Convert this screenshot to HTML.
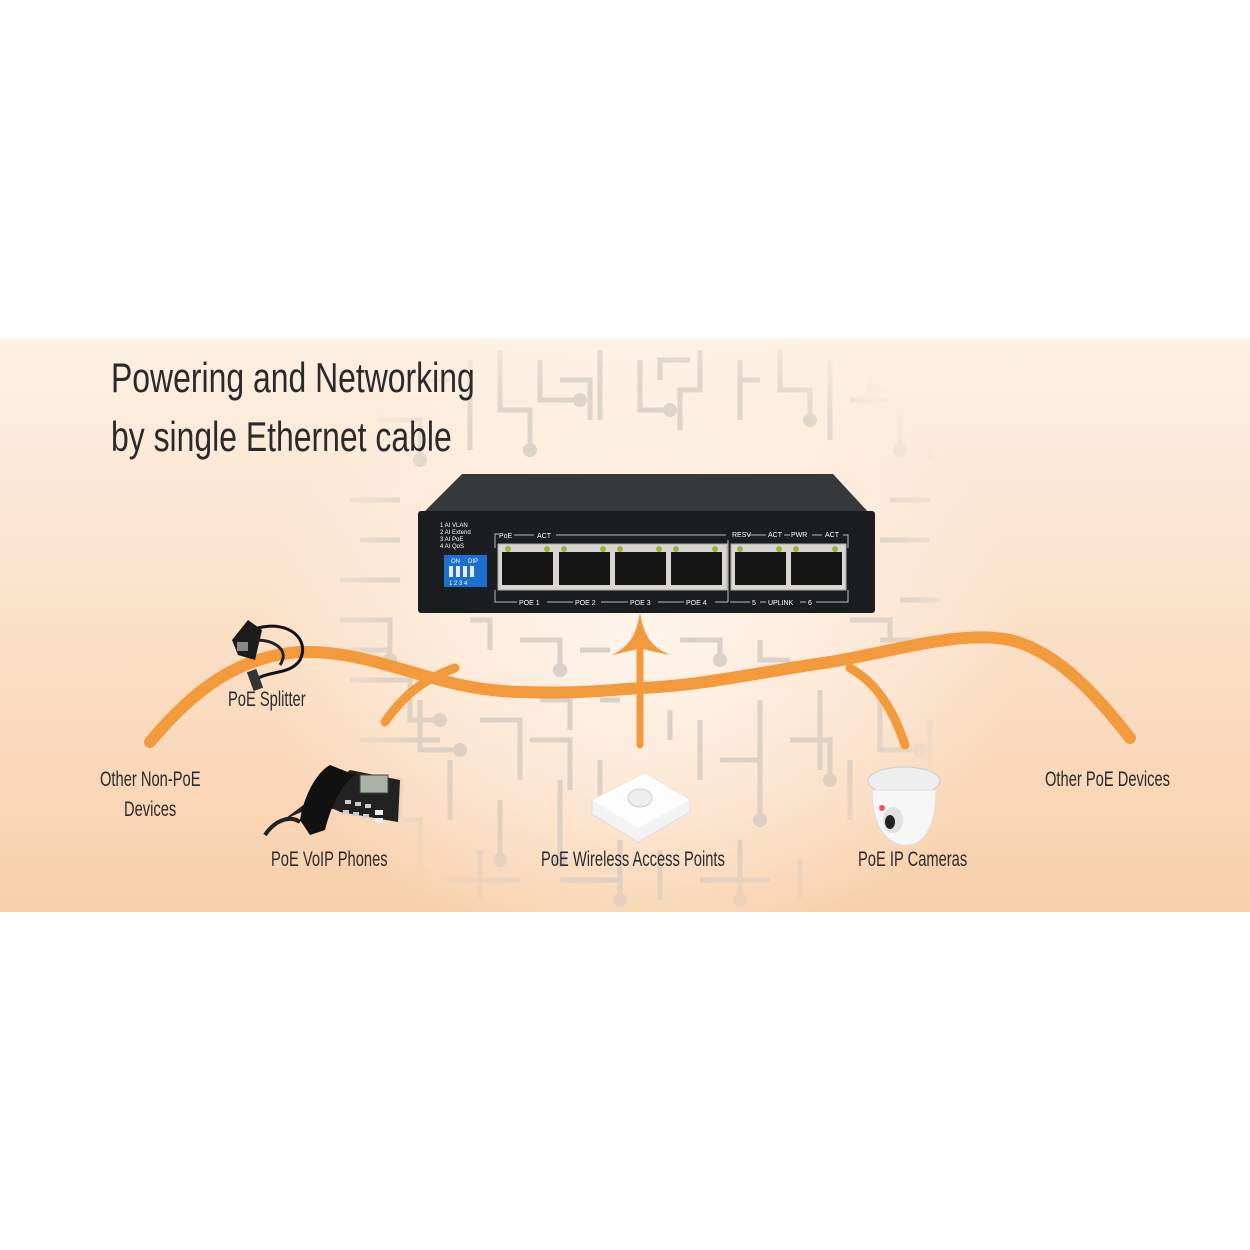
<!DOCTYPE html>
<html><head><style>
html,body{margin:0;padding:0;background:#fff;}
body{width:1250px;height:1250px;position:relative;overflow:hidden;font-family:"Liberation Sans",sans-serif;}
.band{position:absolute;left:0;top:338px;width:1250px;height:574px;
background:linear-gradient(180deg,#fdf0e4 0%,#fbe2cb 45%,#f8d0ab 100%);}
.glow{position:absolute;left:0;top:338px;width:1250px;height:574px;
background:radial-gradient(ellipse 380px 330px at 640px 300px,rgba(255,248,242,0.85) 0%,rgba(255,245,236,0.5) 55%,rgba(255,245,236,0) 100%);}
.t{position:absolute;color:#2a2a2a;white-space:nowrap;transform:scaleX(0.7);transform-origin:0 0;}
.h{transform:scaleX(0.76);}
</style></head><body>
<div class="band"></div>
<div class="glow"></div>
<svg width="1250" height="1250" style="position:absolute;left:0;top:0">
<defs>
<radialGradient id="fade" cx="640" cy="620" r="340" gradientUnits="userSpaceOnUse">
<stop offset="0" stop-color="#fff" stop-opacity="1"/><stop offset="0.75" stop-color="#fff" stop-opacity="0.8"/><stop offset="1" stop-color="#fff" stop-opacity="0"/></radialGradient>
<mask id="m"><rect x="0" y="338" width="1250" height="574" fill="url(#fade)"/></mask>
</defs>
<g mask="url(#m)" stroke="#cdc6be" stroke-width="5" fill="none" opacity="0.8">
<path d="M380 360v60h40v40M420 350v30h30M470 360v90M500 350v60h30v40M540 360v40h40M600 350v70M640 360v50h30M700 350v40h-20v40M740 360v60M780 350v40h30v30M830 360v80M870 350v40h30M900 380v70M930 400v60M560 380h30v40M660 380v-20h30M760 380h-20M850 400h40"/>
<path d="M340 620h50v40M350 680h60v40h30M360 740h80M340 780h60v40M370 820h50v50M420 700v50h40M450 760v60M480 720h40v60M500 800v60M530 740h40v50M560 780v80M600 760v40M700 720v60M720 760h40v60M760 700v70M790 740h40v40M820 690v80M850 760v60M880 700v50h40M900 780v70M930 720v60M440 880h80M560 880h60v20M700 880h70M800 860v40M480 850v50M620 840v60M660 850v50M740 840v60M520 640h40v30M580 650h30M680 640h40v20M760 640v20h30M850 620h40v20M470 620h20v30M600 700h20M670 710v30M540 700h30v30"/>
<path d="M350 500h50M360 540h40M880 540h50M890 500h40M900 600h40M340 580h60M880 640h60M350 650h40"/>
<g fill="#cdc6be" stroke="none">
<circle cx="420" cy="460" r="7"/><circle cx="530" cy="450" r="7"/><circle cx="580" cy="400" r="7"/><circle cx="670" cy="410" r="7"/><circle cx="810" cy="420" r="7"/><circle cx="900" cy="450" r="7"/><circle cx="390" cy="660" r="7"/><circle cx="440" cy="720" r="7"/><circle cx="460" cy="750" r="7"/><circle cx="500" cy="860" r="7"/><circle cx="560" cy="860" r="7"/><circle cx="760" cy="820" r="7"/><circle cx="830" cy="780" r="7"/><circle cx="920" cy="750" r="7"/><circle cx="900" cy="850" r="7"/><circle cx="420" cy="870" r="7"/><circle cx="620" cy="900" r="7"/><circle cx="740" cy="900" r="7"/><circle cx="560" cy="670" r="7"/><circle cx="720" cy="660" r="7"/></g>
</g>
<g fill="none" stroke="#f39a3c" stroke-linecap="round">
<path d="M150 742 C195 688 240 656 300 652 C380 650 430 690 520 692 C580 694 610 690 640 688" stroke-width="12"/>
<path d="M640 688 C700 686 760 672 830 662 C900 650 960 630 1010 640 C1060 652 1100 700 1130 738" stroke-width="12"/>
<path d="M385 722 C400 700 420 680 455 668" stroke-width="9"/>
<path d="M905 745 C895 715 880 685 850 668" stroke-width="9"/>
<path d="M640 745 L640 640" stroke-width="7"/>
</g>
<path d="M612 655 C625 648 636 640 640 612 C644 640 655 648 670 655 C655 652 645 650 640 648 C635 650 625 652 612 655Z" fill="#f39a3c"/>
<polygon points="462,474 833,474 870,514 422,514" fill="#36383b"/>
<rect x="418" y="511" width="457" height="102" rx="3" fill="#1c1d20"/>
<g fill="#fff" font-family="Liberation Sans,sans-serif" font-size="6">
<text x="440" y="527">1 AI VLAN</text><text x="440" y="534">2 AI Extend</text><text x="440" y="541">3 AI PoE</text><text x="440" y="548">4 AI QoS</text>
<text x="499" y="538" font-size="7">PoE</text><text x="537" y="538" font-size="7">ACT</text>
<text x="732" y="537" font-size="7">RESV</text><text x="768" y="537" font-size="7">ACT</text><text x="791" y="537" font-size="7">PWR</text><text x="825" y="537" font-size="7">ACT</text>
<text x="519" y="605" font-size="7">POE 1</text><text x="575" y="605" font-size="7">POE 2</text><text x="630" y="605" font-size="7">POE 3</text><text x="686" y="605" font-size="7">POE 4</text>
<text x="752" y="605" font-size="7">5</text><text x="768" y="605" font-size="7">UPLINK</text><text x="808" y="605" font-size="7">6</text>
</g>
<g stroke="#bbb" stroke-width="1" fill="none">
<path d="M495 548v-14h4M514 535h20M556 535h170M748 535h18M784 535h6M812 535h10M843 535h5v13M495 590v12h22M547 602h26M601 602h27M658 602h26M715 602h13M728 540v62M730 602h20M760 602h6M800 602h6M816 602h32v-12"/>
</g>
<rect x="444" y="555" width="43" height="32" fill="#1c6fd1"/>
<g fill="#fff" font-family="Liberation Sans,sans-serif" font-size="6"><text x="451" y="563">ON</text><text x="468" y="563">DIP</text><text x="449" y="585">1 2 3 4</text></g>
<g fill="#e8eef8"><rect x="449" y="566" width="4" height="11"/><rect x="456" y="566" width="4" height="11"/><rect x="463" y="566" width="4" height="11"/><rect x="470" y="566" width="4" height="11"/></g>
<g fill="#d9d6d0" stroke="#aaa" stroke-width="1">
<rect x="498" y="544" width="229" height="46"/><rect x="731" y="544" width="115" height="46"/></g>
<g fill="#141414">
<rect x="502" y="552" width="51" height="33"/><rect x="559" y="552" width="51" height="33"/><rect x="615" y="552" width="51" height="33"/><rect x="671" y="552" width="51" height="33"/><rect x="735" y="552" width="51" height="33"/><rect x="791" y="552" width="51" height="33"/></g>
<g fill="#9ab236"><circle cx="508" cy="549" r="3"/><circle cx="547" cy="549" r="3"/><circle cx="564" cy="549" r="3"/><circle cx="603" cy="549" r="3"/><circle cx="620" cy="549" r="3"/><circle cx="659" cy="549" r="3"/><circle cx="676" cy="549" r="3"/><circle cx="715" cy="549" r="3"/><circle cx="740" cy="549" r="3"/><circle cx="779" cy="549" r="3"/><circle cx="796" cy="549" r="3"/><circle cx="835" cy="549" r="3"/></g>
<g><polygon points="232,640 248,620 262,630 255,660 238,655" fill="#1b1b1b"/><rect x="237" y="642" width="11" height="9" fill="#888"/>
<path d="M258 628 C290 620 310 640 300 660 C290 675 270 670 255 680" stroke="#111" stroke-width="3" fill="none"/>
<path d="M255 640 C275 640 290 650 280 665" stroke="#222" stroke-width="3" fill="none"/>
<rect x="250" y="670" width="10" height="20" fill="#333" transform="rotate(-20 255 680)"/></g>
<g><path d="M270 830 C290 815 320 800 340 812 L398 822 L400 780 L350 770 Z" fill="#222"/>
<path d="M330 765 C320 770 305 790 300 820 L310 835 L325 830 C330 810 340 785 355 775 Z" fill="#111"/>
<path d="M265 835 C275 820 290 815 300 822" stroke="#222" stroke-width="4" fill="none"/>
<rect x="360" y="775" width="28" height="18" fill="#a9b3a8" stroke="#444"/>
<g fill="#ccc"><rect x="345" y="800" width="6" height="4"/><rect x="355" y="802" width="6" height="4"/><rect x="365" y="804" width="6" height="4"/><rect x="343" y="810" width="6" height="4"/><rect x="353" y="812" width="6" height="4"/><rect x="363" y="814" width="6" height="4"/><rect x="375" y="810" width="8" height="5" fill="#eee"/><rect x="375" y="818" width="8" height="5" fill="#eee"/></g></g>
<g><polygon points="592,800 645,773 690,800 690,812 638,842 592,814" fill="#f3f3f3" stroke="#ddd"/>
<polygon points="592,800 645,773 690,800 638,828" fill="#fdfdfd"/>
<ellipse cx="640" cy="798" rx="12" ry="9" fill="#eee" stroke="#ccc"/></g>
<g><ellipse cx="904" cy="781" rx="36" ry="14" fill="#eee" stroke="#ccc"/>
<path d="M872 790 C872 830 890 848 910 845 C928 842 936 820 936 790 Z" fill="#f6f6f6" stroke="#ddd"/>
<ellipse cx="893" cy="820" rx="10" ry="13" fill="#e0e0e0"/><ellipse cx="890" cy="822" rx="5" ry="7" fill="#222"/>
<circle cx="882" cy="808" r="3" fill="#e55"/></g>
</svg>
<div class="t h" style="left:111px;top:354px;font-size:42px;">Powering and Networking</div>
<div class="t h" style="left:111px;top:413px;font-size:42px;">by single Ethernet cable</div>
<div class="t" style="left:228px;top:688px;font-size:21px;">PoE Splitter</div>
<div class="t" style="left:100px;top:768px;font-size:21px;">Other Non-PoE</div>
<div class="t" style="left:124px;top:798px;font-size:21px;">Devices</div>
<div class="t" style="left:271px;top:848px;font-size:21px;">PoE VoIP Phones</div>
<div class="t" style="left:541px;top:848px;font-size:21px;">PoE Wireless Access Points</div>
<div class="t" style="left:858px;top:848px;font-size:21px;">PoE IP Cameras</div>
<div class="t" style="left:1045px;top:768px;font-size:21px;">Other PoE Devices</div>
</body></html>
